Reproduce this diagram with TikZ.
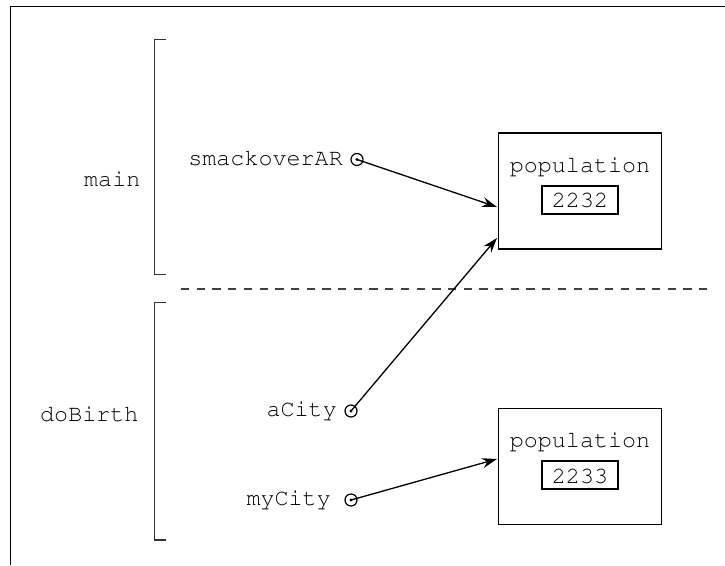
\documentclass[tikz,border=0pt]{standalone}
\usepackage[T1]{fontenc}
\usetikzlibrary{arrows.meta}
\newcommand{\courierfont}{\fontencoding{T1}\fontfamily{pcr}\fontseries{m}\fontshape{n}\fontsize{23.4}{28}\selectfont}
\begin{document}
\begin{tikzpicture}[x=1pt,y=-1pt,
  mono/.style={font=\courierfont, inner sep=0pt},
  objbox/.style={draw, line width=1.4pt, minimum width=163pt, minimum height=116pt, inner sep=0pt},
  valbox/.style={draw, line width=1.2pt, minimum width=76pt, minimum height=28pt, inner sep=0pt},
  refdot/.style={circle, draw, line width=1.2pt, minimum size=12pt, inner sep=0pt},
  refarrow/.style={line width=1.3pt, -{Stealth[length=15pt,width=10pt,inset=5pt]}},
  bracket/.style={line width=1.4pt, draw=black!80}]
\useasboundingbox (0,0) rectangle (725,565);
% frame
\draw[line width=1.6pt] (10.5,565) -- (10.5,6.5) -- (725,6.5);
% brackets
\draw[bracket] (166,39.5) -- (154.5,39.5) -- (154.5,274.5) -- (166,274.5);
\draw[bracket] (166,302.5) -- (154.5,302.5) -- (154.5,540) -- (166,540);
% dashed separator
\draw[line width=1.3pt, draw=black!75, dash pattern=on 8.3pt off 7.4pt] (181,289) -- (710,289);
% frame labels
\node[mono, anchor=base west] (lmain) at (84,186) {main};
\node[mono, anchor=base west] (ldobirth) at (40,421) {doBirth};
% objects
\node[objbox] (obj1) at (580,191) {};
\node[mono, anchor=base] (pop1) at (580,172) {population};
\node[valbox] (val1) at (580,200) {};
\node[mono, anchor=base] (num1) at (580,207) {2232};
\node[objbox] (obj2) at (580,466.5) {};
\node[mono, anchor=base] (pop2) at (580,447) {population};
\node[valbox] (val2) at (580,475) {};
\node[mono, anchor=base] (num2) at (580,483) {2233};
% references
\node[mono, anchor=base east] (lsmack) at (343,165) {smackoverAR};
\node[refdot] (c1) at (357,159.5) {};
\fill (c1.center) circle (1.6pt);
\node[mono, anchor=base east] (lacity) at (337,416) {aCity};
\node[refdot] (c2) at (351,411) {};
\fill (c2.center) circle (1.6pt);
\node[mono, anchor=base east] (lmycity) at (331,505) {myCity};
\node[refdot] (c3) at (351,500) {};
\fill (c3.center) circle (1.6pt);
% arrow targets
\coordinate (t1) at (497,207);
\coordinate (t2) at (497,238);
\coordinate (t3) at (497,459);
\draw[refarrow] (c1.center) -- (t1);
\draw[refarrow] (c2.center) -- (t2);
\draw[refarrow] (c3.center) -- (t3);
\end{tikzpicture}
\end{document}
